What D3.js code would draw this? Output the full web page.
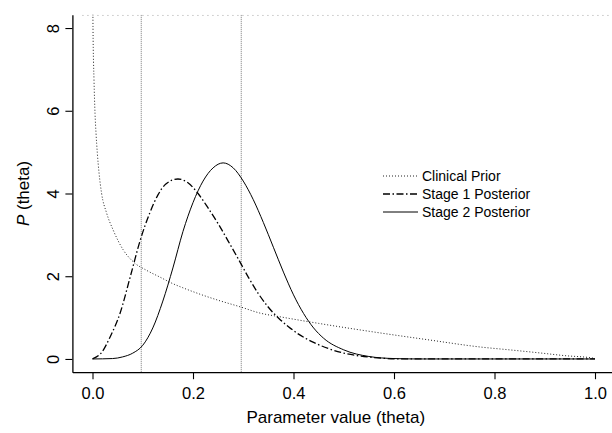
<!DOCTYPE html>
<html>
<head>
<meta charset="utf-8">
<script src="https://cdnjs.cloudflare.com/ajax/libs/d3/7.8.5/d3.min.js"></script>
<style>
  html, body { margin: 0; padding: 0; background: #fff; }
  svg text { font-family: "Liberation Sans", Arial, Helvetica, sans-serif; fill: #000; }
</style>
</head>
<body>
<svg id="chart" width="612" height="433"></svg>
<script>
// values: [theta, density]
var priorPts = [[0.0005, 9.0], [0.001, 8.0], [0.003, 6.74], [0.005, 5.94], [0.007, 5.46], [0.0096, 4.98],
  [0.013, 4.5], [0.018, 4.01], [0.028, 3.53], [0.041, 3.12], [0.061, 2.64], [0.081, 2.35], [0.108, 2.14],
  [0.134, 1.98], [0.16, 1.82], [0.18, 1.72], [0.22, 1.54], [0.25, 1.42], [0.294, 1.26], [0.333, 1.11],
  [0.373, 1.02], [0.45, 0.86], [0.572, 0.63], [0.67, 0.46], [0.771, 0.29], [0.83, 0.22], [0.891, 0.145],
  [0.94, 0.08], [0.996, 0.02], [1.0, 0.0]];
var stage1Pts = [[0, 0], [0.019, 0.17], [0.035, 0.53], [0.055, 1.11], [0.075, 1.98], [0.095, 2.87],
  [0.114, 3.53], [0.13, 3.96], [0.146, 4.23], [0.17, 4.35], [0.19, 4.26], [0.21, 4.0], [0.23, 3.65],
  [0.25, 3.27], [0.27, 2.85], [0.29, 2.42], [0.31, 1.98], [0.33, 1.58], [0.35, 1.25], [0.37, 0.99],
  [0.39, 0.78], [0.41, 0.6], [0.44, 0.4], [0.47, 0.25], [0.5, 0.14], [0.54, 0.06], [0.58, 0.015],
  [0.62, 0], [1.0, 0]];
var stage2Pts = [[0, 0], [0.04, 0.01], [0.06, 0.05], [0.08, 0.14], [0.1, 0.33], [0.12, 0.75], [0.14, 1.4],
  [0.16, 2.2], [0.18, 3.08], [0.2, 3.78], [0.22, 4.3], [0.24, 4.62], [0.26, 4.74], [0.28, 4.62],
  [0.3, 4.3], [0.32, 3.85], [0.34, 3.3], [0.36, 2.7], [0.38, 2.1], [0.4, 1.55], [0.42, 1.1], [0.44, 0.75],
  [0.46, 0.5], [0.5, 0.22], [0.55, 0.06], [0.6, 0.01], [0.65, 0], [1.0, 0]];
var markers = [0.097, 0.296];
var xTicks = [0, 0.2, 0.4, 0.6, 0.8, 1.0];
var yTicks = [0, 2, 4, 6, 8];
var seriesNames = ["Clinical Prior", "Stage 1 Posterior", "Stage 2 Posterior"];
var seriesDash = ["1,2", "7,2.5,1.5,2.5", null];

var svg = d3.select("#chart");
// R-style 4% padding round the data range
var x = d3.scaleLinear().domain([-0.04, 1.04]).range([72.4, 615.1]);
var y = d3.scaleLinear().domain([-0.32, 8.32]).range([372.2, 14.8]);

svg.append("defs").append("clipPath").attr("id", "plotclip")
  .append("rect").attr("x", x(-0.04)).attr("y", y(8.32))
  .attr("width", x(1.04) - x(-0.04)).attr("height", y(-0.32) - y(8.32));

var plot = svg.append("g").attr("clip-path", "url(#plotclip)");

// faint dotted edge along the top
plot.append("line")
  .attr("x1", x(-0.02)).attr("x2", x(1.04))
  .attr("y1", y(8.32) + 0.5).attr("y2", y(8.32) + 0.5)
  .attr("stroke", "#999").attr("stroke-width", 1).attr("stroke-dasharray", "1,4");

plot.selectAll("line.marker").data(markers).enter().append("line")
  .attr("class", "marker")
  .attr("x1", function (d) { return x(d); }).attr("x2", function (d) { return x(d); })
  .attr("y1", y(8.32)).attr("y2", y(-0.32))
  .attr("stroke", "#777").attr("stroke-width", 1).attr("stroke-dasharray", "1,1");

var line = d3.line()
  .x(function (d) { return x(d[0]); })
  .y(function (d) { return y(d[1]); })
  .curve(d3.curveMonotoneX);

[priorPts, stage1Pts, stage2Pts].forEach(function (pts, i) {
  plot.append("path").datum(pts)
    .attr("d", line)
    .attr("fill", "none")
    .attr("stroke", i === 0 ? "#222" : "#000")
    .attr("stroke-width", i === 1 ? 1.3 : 1)
    .attr("stroke-dasharray", seriesDash[i]);
});

// axes
var xAxis = d3.axisBottom(x).tickValues(xTicks).tickFormat(d3.format(".1f")).tickSize(7).tickSizeOuter(0);
var gx = svg.append("g").attr("transform", "translate(0," + y(-0.32) + ")").call(xAxis);
gx.selectAll("text").attr("font-size", "16.5px").attr("dy", null).attr("y", 27);

var yAxis = d3.axisLeft(y).tickValues(yTicks).tickFormat(d3.format("d")).tickSize(7).tickSizeOuter(0);
var gy = svg.append("g").attr("transform", "translate(" + x(-0.04) + ",0)").call(yAxis);
gy.selectAll(".tick text")
  .attr("font-size", "16.5px")
  .attr("x", null).attr("dy", null)
  .attr("text-anchor", "middle")
  .attr("transform", "translate(-13,0) rotate(-90)");

[gx, gy].forEach(function (g) {
  g.select(".domain").attr("stroke", "#000").attr("stroke-width", 1.3);
  g.selectAll(".tick line").attr("stroke", "#000").attr("stroke-width", 1.1);
  g.attr("font-family", null);
});

svg.append("text")
  .attr("x", (x(-0.04) + x(1.04)) / 2 - 8).attr("y", 423)
  .attr("text-anchor", "middle").attr("font-size", "17px")
  .text("Parameter value (theta)");

var yt = svg.append("text")
  .attr("text-anchor", "middle").attr("font-size", "17px")
  .attr("transform", "translate(29," + ((y(-0.32) + y(8.32)) / 2) + ") rotate(-90)");
yt.append("tspan").attr("font-style", "italic").text("P");
yt.append("tspan").text(" (theta)");

// legend
var leg = svg.append("g").attr("transform", "translate(383,176)");
seriesNames.forEach(function (name, i) {
  var row = leg.append("g").attr("transform", "translate(0," + i * 18 + ")");
  row.append("line").attr("x1", 0).attr("x2", 35).attr("y1", 0).attr("y2", 0)
    .attr("stroke", i === 0 ? "#222" : "#000")
    .attr("stroke-width", i === 1 ? 1.3 : 1)
    .attr("stroke-dasharray", seriesDash[i]);
  row.append("text").attr("x", 39).attr("y", 0).attr("dy", "0.35em")
    .attr("font-size", "14px").text(name);
});
</script>
</body>
</html>
